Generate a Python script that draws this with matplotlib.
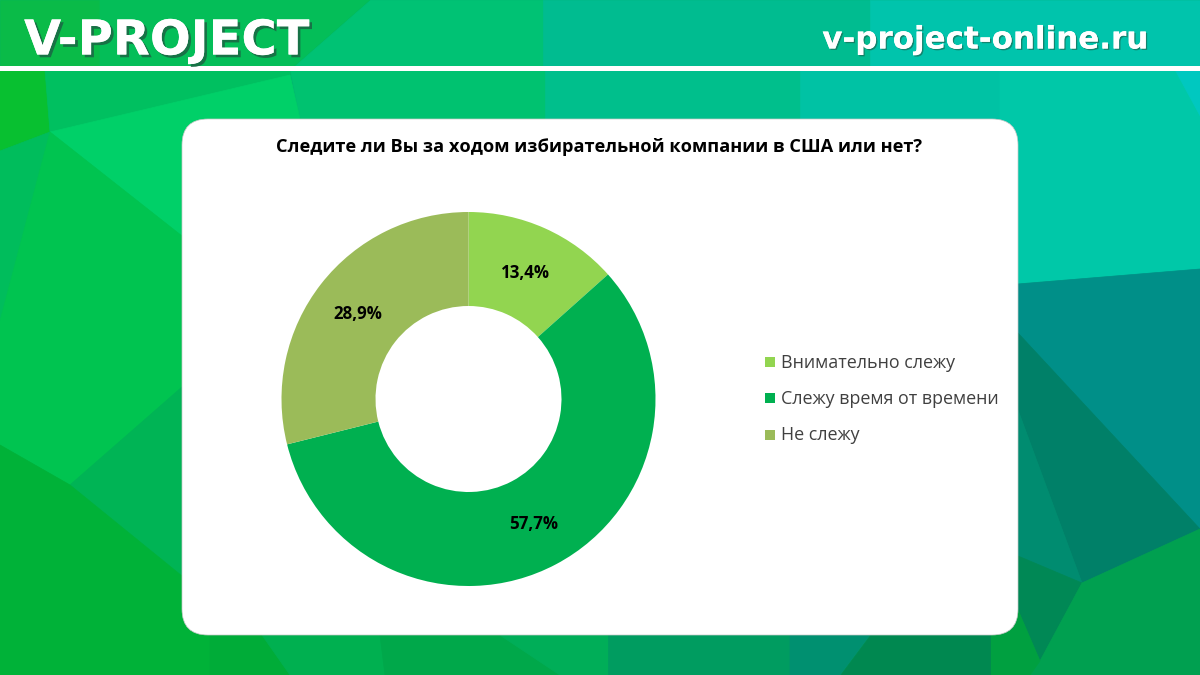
import math
import matplotlib
matplotlib.use('Agg')
import matplotlib.pyplot as plt
import matplotlib.patheffects as pe
from matplotlib.patches import FancyBboxPatch, Polygon, Rectangle

plt.rcParams['font.family'] = ['Open Sans', 'DejaVu Sans']

labels = ['Внимательно слежу', 'Слежу время от времени', 'Не слежу']
values = [13.4, 57.7, 28.9]
value_labels = ['13,4%', '57,7%', '28,9%']
colors = ['#92d550', '#00b050', '#9bbb59']
title = 'Следите ли Вы за ходом избирательной компании в США или нет?'

# background facets, pixel coordinates of the reference
facets = [
    # header band
    ([(0, 0), (100, 0), (100, 70), (0, 70)], '#0abb48'),
    ([(100, 0), (370, 0), (290, 70), (100, 70)], '#04be58'),
    ([(370, 0), (543, 0), (543, 70), (290, 70)], '#00c274'),
    ([(543, 0), (870, 0), (870, 70), (543, 70)], '#00bc90'),
    ([(870, 0), (1200, 0), (1200, 70), (870, 70)], '#00c4ac'),
    # strip under the header
    ([(290, 70), (545, 70), (545, 119), (300, 119)], '#00c270'),
    ([(545, 70), (800, 70), (800, 119), (545, 119)], '#00bf8c'),
    ([(800, 70), (1020, 70), (1020, 119), (800, 119)], '#00c2a4'),
    # left side
    ([(0, 70), (45, 70), (50, 132), (0, 151)], '#08c030'),
    ([(45, 70), (290, 70), (290, 75), (50, 132)], '#00c060'),
    ([(50, 132), (290, 75), (300, 119), (210, 150), (210, 258), (182, 236)], '#00d068'),
    ([(0, 151), (50, 132), (0, 321)], '#00bd5c'),
    ([(50, 132), (182, 236), (182, 387), (70, 485), (0, 445), (0, 321)], '#00c450'),
    ([(70, 485), (182, 387), (182, 576)], '#00b455'),
    ([(0, 445), (70, 485), (182, 576), (210, 600), (210, 675), (0, 675)], '#00b238'),
    # right side
    ([(1000, 70), (1200, 70), (1200, 269), (1000, 285)], '#00c8a8'),
    ([(1175, 70), (1200, 70), (1200, 116)], '#00c8c0'),
    ([(1018, 284), (1200, 269), (1200, 529), (1018, 333)], '#008f88'),
    ([(1018, 333), (1200, 529), (1082, 583), (1018, 410)], '#008068'),
    ([(1018, 410), (1082, 583), (1018, 556)], '#008c70'),
    ([(1018, 556), (1082, 583), (1040, 661), (1018, 610)], '#008855'),
    ([(1082, 583), (1200, 529), (1200, 675), (1030, 675), (1040, 661)], '#00a050'),
    ([(990, 605), (1018, 610), (1040, 661), (1030, 675), (990, 675)], '#00a040'),
    # bottom strip
    ([(210, 635), (262, 635), (290, 675), (210, 675)], '#00ac38'),
    ([(262, 635), (380, 635), (385, 675), (290, 675)], '#00b050'),
    ([(380, 635), (500, 635), (560, 675), (385, 675)], '#00a84a'),
    ([(500, 635), (608, 635), (608, 675), (560, 675)], '#00ae58'),
    ([(608, 635), (790, 635), (790, 675), (608, 675)], '#009c60'),
    ([(790, 635), (870, 635), (840, 675), (790, 675)], '#009070'),
    ([(870, 635), (990, 635), (990, 675), (840, 675)], '#008850'),
]

fig = plt.figure(figsize=(12, 6.75), dpi=100)

# full-figure axes in pixels for the slide decoration
bg = fig.add_axes([0, 0, 1, 1])
bg.set_xlim(0, 1200)
bg.set_ylim(675, 0)
bg.axis('off')
bg.add_patch(Rectangle((0, 0), 1200, 675, color='#00b070', zorder=0))
for pts, c in facets:
    bg.add_patch(Polygon(pts, closed=True, facecolor=c, edgecolor=c, lw=0.5, zorder=1))
bg.add_patch(Rectangle((0, 66), 1200, 4.5, color='white', lw=0, zorder=2))
bg.add_patch(FancyBboxPatch((182, 119), 836, 516, boxstyle='round,pad=0,rounding_size=26',
                            facecolor='white', edgecolor='#c8c8c8', lw=0.5, zorder=2))

bg.text(24, 41, 'V-PROJECT', color='white', fontsize=34.6, fontweight='bold',
        family='DejaVu Sans', va='center', ha='left', zorder=3,
        path_effects=[pe.withSimplePatchShadow(offset=(2, -2), shadow_rgbFace='#1a6a45', alpha=0.9), pe.Normal()])
bg.text(1149, 40, 'v-project-online.ru', color='white', fontsize=22.3, fontweight='bold',
        family='DejaVu Sans', va='center', ha='right', zorder=3,
        path_effects=[pe.withSimplePatchShadow(offset=(1, -1), shadow_rgbFace='#1a6a55', alpha=0.7), pe.Normal()])
bg.text(599, 146.5, title, color='black', fontsize=13.15, fontweight='bold',
        va='center', ha='center', zorder=3)

# donut centred at (468.5, 399), radius about 187 px
ax = fig.add_axes([(468.5 - 200) / 1200, 1 - (399 + 200) / 675, 400 / 1200, 400 / 675])
wedges, _ = ax.pie(values, colors=colors, startangle=90, counterclock=False, radius=187,
                   wedgeprops=dict(width=94, linewidth=0))
# pie() resets the limits to +-1.25, so these have to come after it
ax.set_xlim(-200, 200)
ax.set_ylim(-200, 200)
ax.set_aspect('equal')
ax.axis('off')

# labels sit at the middle of the ring
cum = 0
for v, txt in zip(values, value_labels):
    ang = math.radians(90 - (cum + v / 2) * 3.6)
    ax.text(140 * math.cos(ang), 140 * math.sin(ang) - 1.5, txt, ha='center', va='center',
            fontsize=12.2, fontweight='bold', color='black')
    cum += v

# legend
leg_y = [362, 398, 435]
for y, lab, c in zip(leg_y, labels, colors):
    bg.add_patch(Rectangle((765, y - 5), 10, 10, color=c, lw=0, zorder=3))
    bg.text(781, y + 0.5, lab, fontsize=12.85, color='#404040', va='center', ha='left', zorder=3)

fig.savefig('out.png', dpi=100)
